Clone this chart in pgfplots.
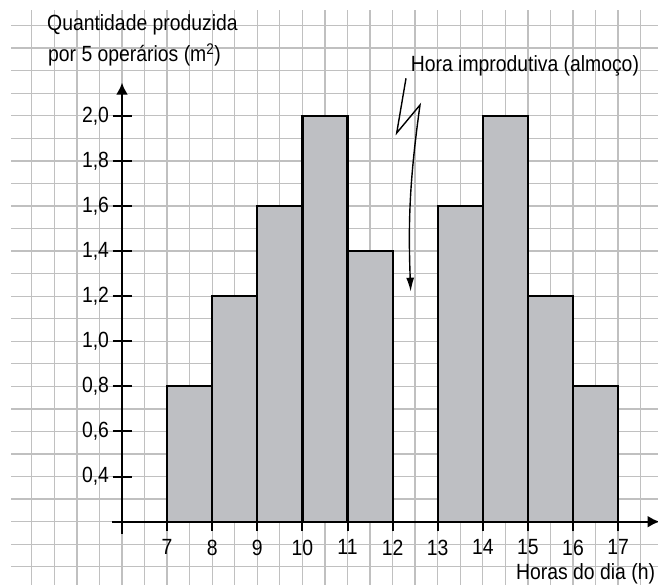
\documentclass[border=0pt]{standalone}
\usepackage{pgfplots}
\pgfplotsset{compat=1.18}
\usetikzlibrary{arrows.meta}
\usepackage{fontspec}
\setmainfont{Liberation Sans}[FakeStretch=0.88]

\definecolor{gridgray}{RGB}{192,192,192}
\definecolor{barfill}{RGB}{190,191,195}

\begin{document}
\begin{tikzpicture}[font=\fontsize{22pt}{26pt}\selectfont]
% squared paper behind the chart
\begin{axis}[
    at={(11pt,0pt)}, anchor=south west,
    x=45.1pt, y=225.5pt,
    xmin=3.539, xmax=17.885,
    ymin=-0.0807, ymax=2.469,
    xtick={4,4.5,...,17.5},
    ytick={0,0.1,...,2.4},
    xticklabels={}, yticklabels={},
    major tick length=0pt,
    grid=major,
    major grid style={draw=gridgray, line width=1.3pt},
    axis line style={draw=none}
]
\end{axis}
% bars and axes
\begin{axis}[
    at={(122pt,63.3pt)}, anchor=south west,
    x=45.1pt, y=225.5pt,
    xmin=6, xmax=17.92,
    ymin=0.2, ymax=2.147,
    axis lines=left,
    axis on top=true,
    axis line style={line width=2.2pt, -{Latex[length=12pt,width=12pt]}},
    x axis line style={shorten <=-10pt},
    y axis line style={shorten <=-12pt},
    xtick={7,8,9,10,11,12,13,14,15,16,17},
    ytick={0.4,0.6,0.8,1.0,1.2,1.4,1.6,1.8,2.0},
    tick align=center,
    major tick length=19pt,
    tick style={line width=2pt, black},
    xticklabel style={font=\fontsize{22pt}{26pt}\selectfont, yshift=-5pt,
        /pgf/number format/assume math mode=true},
    yticklabel style={font=\fontsize{22pt}{26pt}\selectfont,
        /pgf/number format/.cd, fixed, fixed zerofill, precision=1,
        use comma, assume math mode=true},
]
% morning shift
\addplot[ybar interval, fill=barfill, draw=black, line width=2.2pt] coordinates {
    (7,0.8) (8,1.2) (9,1.6) (10,2.0) (11,1.4) (12,1.4)
};
% afternoon shift
\addplot[ybar interval, fill=barfill, draw=black, line width=2.2pt] coordinates {
    (13,1.6) (14,2.0) (15,1.2) (16,0.8) (17,0.8)
};
\end{axis}

% titles and annotation
\node[anchor=base west, inner sep=0pt] at (47pt,554pt) {Quantidade produzida};
\node[anchor=base west, inner sep=0pt] at (48pt,523pt) {por 5 operários (m\textsuperscript{2})};
\node[anchor=base west, inner sep=0pt] at (410.7pt,513.3pt) {Hora improdutiva (almoço)};
\node[anchor=base west, inner sep=0pt] at (516pt,5pt) {Horas do dia (h)};
\draw[line width=1.4pt, -{Latex[length=14pt,width=8pt]}]
    (406pt,506.7pt) -- (396.7pt,452pt) -- (420pt,480pt)
    to[bend right=5] (410.7pt,293.3pt);

\pgfresetboundingbox
\path (0pt,0pt) rectangle (658pt,585pt);
\end{tikzpicture}
\end{document}
